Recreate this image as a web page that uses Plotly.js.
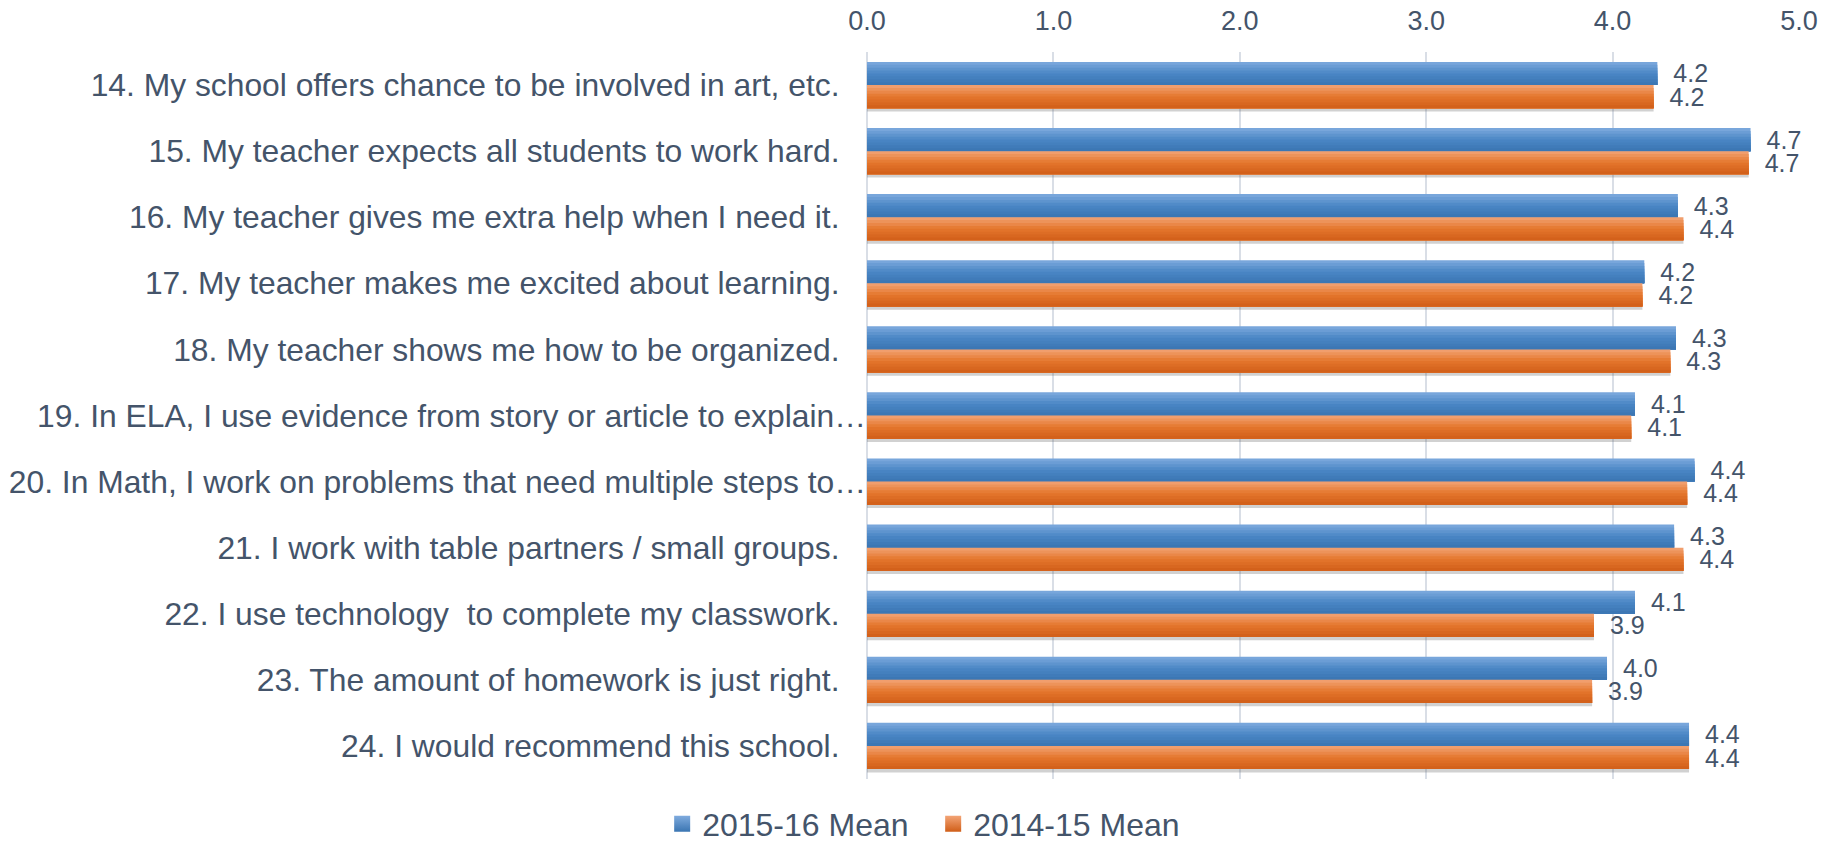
<!DOCTYPE html>
<html>
<head>
<meta charset="utf-8">
<script src="https://cdn.plot.ly/plotly-3.0.1.min.js"></script>
<style>html,body{margin:0;padding:0;background:#fff;}#chart{width:1835px;height:846px;}</style>
</head>
<body>
<div id="chart"></div>
<script>
const categories = [
  "14. My school offers chance to be involved in art, etc.",
  "15. My teacher expects all students to work hard.",
  "16. My teacher gives me extra help when I need it.",
  "17. My teacher makes me excited about learning.",
  "18. My teacher shows me how to be organized.",
  "19. In ELA, I use evidence from story or article to explain…",
  "20. In Math, I work on problems that need multiple steps to…",
  "21. I work with table partners / small groups.",
  "22. I use technology  to complete my classwork.",
  "23. The amount of homework is just right.",
  "24. I would recommend this school."
];
const mean2015_16 = [4.24, 4.74, 4.35, 4.17, 4.34, 4.12, 4.44, 4.33, 4.12, 3.97, 4.41];
const mean2014_15 = [4.22, 4.73, 4.38, 4.16, 4.31, 4.10, 4.40, 4.38, 3.90, 3.89, 4.41];
const seriesNames = ["2015-16 Mean", "2014-15 Mean"];
const xTicks = [0, 1, 2, 3, 4, 5];
const xTickLabels = ["0.0", "1.0", "2.0", "3.0", "4.0", "5.0"];

const fontColor = "#44546A";
const fontFamily = "Liberation Sans, Arial, sans-serif";

// gradient colour stops (top -> bottom) for each series
const blueStops = [[127, 171, 222], [74, 134, 197], [58, 117, 178]];
const orangeStops = [[243, 164, 118], [228, 118, 44], [208, 94, 24]];

const NSTRIPE = 8;
const BARW = 0.35;

function rgb(c) { return "rgb(" + c.join(",") + ")"; }
function lerpColor(stops, t) {
  let a, b, u;
  if (t <= 0.5) { a = stops[0]; b = stops[1]; u = t / 0.5; }
  else { a = stops[1]; b = stops[2]; u = (t - 0.5) / 0.5; }
  return rgb(a.map((v, i) => Math.round(v + (b[i] - v) * u)));
}

const catIdx = categories.map((c, i) => i);
const data = [];

// soft shadow under each category group
data.push({
  type: "bar", orientation: "h",
  y: catIdx, x: mean2014_15,
  width: 0.05, offset: BARW,
  marker: {color: "rgba(90,90,90,0.28)", line: {width: 0}},
  showlegend: false, hoverinfo: "skip"
});

function addSeries(vals, name, stops, baseOffset) {
  for (let k = 0; k < NSTRIPE; k++) {
    const t = (k + 0.5) / NSTRIPE;
    const off = baseOffset + k * BARW / NSTRIPE;
    data.push({
      type: "bar",
      orientation: "h",
      y: catIdx,
      x: vals,
      name: name,
      showlegend: false,
      width: baseOffset + BARW - off,
      offset: off,
      marker: {color: lerpColor(stops, t), line: {width: 0}},
      textposition: "none",
      hoverinfo: "skip"
    });
  }
  // value labels, centred on the bar
  data.push({
    type: "bar",
    orientation: "h",
    y: catIdx,
    x: vals,
    name: name,
    showlegend: false,
    width: 0.01,
    offset: baseOffset + BARW / 2 - 0.005,
    marker: {color: "rgba(0,0,0,0)", line: {width: 0}},
    text: vals.map(v => "\u00A0\u00A0\u200A" + v.toFixed(1)),
    textposition: "outside",
    constraintext: "none",
    textfont: {family: fontFamily, size: 25, color: fontColor},
    cliponaxis: false,
    hoverinfo: "skip"
  });
  // legend entry with gradient square
  data.push({
    type: "scatter",
    mode: "markers",
    x: [null], y: [null],
    name: name,
    showlegend: true,
    marker: {symbol: "square", size: 16, color: rgb(stops[0]),
             gradient: {type: "vertical", color: rgb(stops[2])}, line: {width: 0}},
    hoverinfo: "skip"
  });
}
addSeries(mean2015_16, seriesNames[0], blueStops, -BARW);
addSeries(mean2014_15, seriesNames[1], orangeStops, 0);

const tickText = categories.map(c => c.endsWith("…") ? c : c + "\u00A0\u00A0\u00A0");

const layout = {
  width: 1835,
  height: 846,
  margin: {l: 867, r: 36, t: 52, b: 67},
  paper_bgcolor: "#ffffff",
  plot_bgcolor: "#ffffff",
  barmode: "overlay",
  font: {family: fontFamily, size: 22, color: fontColor},
  showlegend: true,
  legend: {
    orientation: "h",
    x: 0.071, xanchor: "center",
    yref: "container",
    y: 0.026, yanchor: "middle",
    font: {family: fontFamily, size: 32, color: fontColor},
    itemsizing: "trace",
    entrywidth: 226,
    traceorder: "normal"
  },
  xaxis: {
    side: "top",
    range: [0, 5],
    tickvals: xTicks,
    ticktext: xTickLabels,
    tickfont: {family: fontFamily, size: 27, color: fontColor},
    showgrid: true,
    gridcolor: "#D9DEE6",
    gridwidth: 2,
    zeroline: true,
    zerolinecolor: "#D9DEE6",
    zerolinewidth: 2,
    showline: false,
    ticks: "outside",
    ticklen: 10,
    tickcolor: "rgba(0,0,0,0)",
    fixedrange: true
  },
  yaxis: {
    range: [categories.length - 0.5, -0.5],
    tickvals: catIdx,
    ticktext: tickText,
    tickfont: {family: fontFamily, size: 31.8, color: fontColor},
    showgrid: false,
    zeroline: false,
    showline: false,
    ticks: "",
    fixedrange: true
  }
};

Plotly.newPlot("chart", data, layout, {displayModeBar: false, staticPlot: true});
</script>
</body>
</html>
